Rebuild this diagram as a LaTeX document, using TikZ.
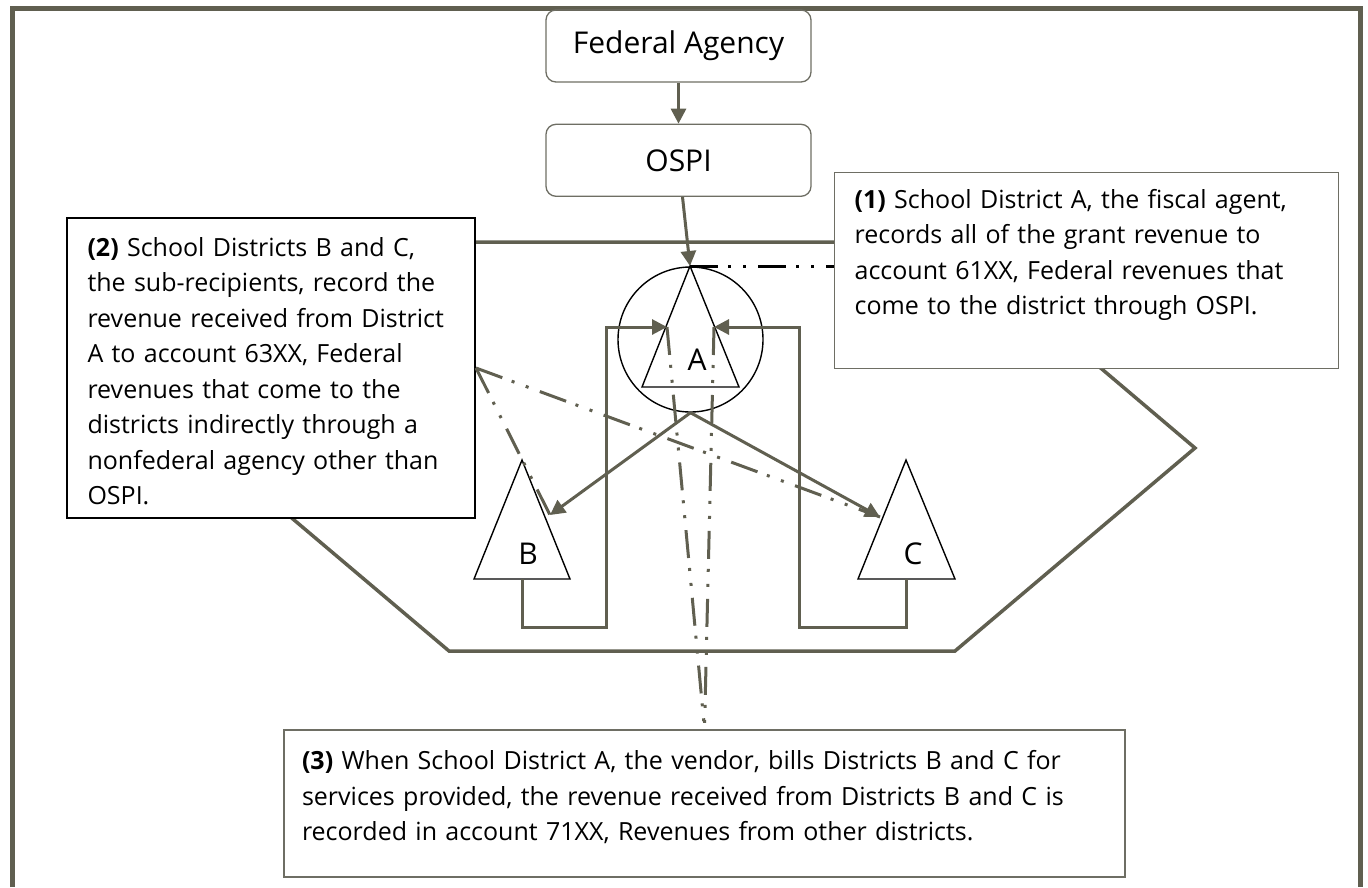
\documentclass[tikz,border=0pt]{standalone}
\usepackage{fontspec}
\setmainfont{Open Sans}
\usetikzlibrary{arrows.meta,positioning}
\definecolor{lineolive}{RGB}{96,95,80}
\definecolor{boxgray}{RGB}{110,110,100}

\begin{document}
\begin{tikzpicture}[x=1pt,y=-1pt,
  conn/.style={line width=3pt,lineolive},
  arr/.style={conn,-{Triangle[length=15pt,width=15pt]}},
  dashdots/.style={line width=3pt,dash pattern=on 28pt off 10pt on 3pt off 12pt on 3pt off 12pt},
  tri/.style={line width=1.4pt,black},
  roundbox/.style={draw=boxgray,line width=1.3pt,rounded corners=10pt,minimum width=265pt,minimum height=72pt,font=\fontsize{30}{36}\selectfont},
  notebox/.style={fill=white,align=left,anchor=north west,inner xsep=20pt,inner ysep=0pt,font=\fontsize{25}{35.5}\selectfont},
  letter/.style={font=\fontsize{30}{36}\selectfont}]
\useasboundingbox (0,0) rectangle (1368,887);
\draw[lineolive,line width=5pt] (12,887) |- (1360.5,8.5) -- (1360.5,887);

% big outline behind the notes
\draw[conn,line width=3.5pt] (452,242) -- (952,242) -- (1195,448) -- (955,651) -- (449,651) -- (209,448) -- cycle;

\node[roundbox] (fed) at (678.5,46) {Federal Agency};
\node[roundbox,below=41pt of fed] (ospi) {OSPI};

\node[notebox,draw=boxgray,line width=1.3pt,text width=464pt] (note1) at (834,172)
 {\rule{0pt}{35.5pt}\textbf{(1)} School District A, the fiscal agent,\\
  records all of the grant revenue to\\
  account 61XX, Federal revenues that\\
  come to the district through OSPI.\rule[-54pt]{0pt}{0pt}};
\node[notebox,draw=black,line width=2pt,inner xsep=20.5pt,text width=367pt] (note2) at (66,217)
 {\rule{0pt}{38pt}\textbf{(2)} School Districts B and C,\\
  the sub-recipients, record the\\
  revenue received from District\\
  A to account 63XX, Federal\\
  revenues that come to the\\
  districts indirectly through a\\
  nonfederal agency other than\\
  OSPI.\rule[-13.5pt]{0pt}{0pt}};
\node[notebox,draw=boxgray,line width=2pt,inner xsep=18pt,text width=805pt] (note3) at (283,729)
 {\rule{0pt}{39.5pt}\textbf{(3)} When School District A, the vendor, bills Districts B and C for\\
  services provided, the revenue received from Districts B and C is\\
  recorded in account 71XX, Revenues from other districts.\rule[-36pt]{0pt}{0pt}};

% district A
\node[draw,circle,line width=1.4pt,minimum size=145pt,inner sep=0pt] (acirc) at (690.5,339.5) {};
\coordinate (atop) at (690,266);
\draw[tri] (atop) -- (642,387) -- (739,387) -- cycle;
\node[letter] (alab) at (697,360) {A};
\coordinate (ain) at (667,327);
\coordinate (aout) at (714,327);

% districts B and C
\draw[tri] (522,460) -- (474,579) -- (570,579) -- cycle;
\node[letter] (blab) at (528,554) {B};
\draw[tri] (906,460) -- (858,579) -- (955,579) -- cycle;
\node[letter] (clab) at (913,554) {C};
\coordinate (btip) at (550,515);
\coordinate (ctip) at (880,517);
\coordinate (bfoot) at (522,579);
\coordinate (cfoot) at (906,579);

\draw[arr] (fed) -- (ospi);
\draw[arr] ([xshift=4pt]ospi.south) -- (atop);
\draw[dashdots,black] (atop) -- (atop -| note1.west);
\draw[arr] (acirc.south) -- (btip);
\draw[arr] (acirc.south) -- (ctip);
\draw[arr] (bfoot) |- (606,627) |- (ain);
\draw[arr] (cfoot) |- (799,627) |- (aout);
\draw[dashdots,lineolive] (ain) -- (note3.north);
\draw[dashdots,lineolive] (aout) -- (note3.north);
\draw[dashdots,lineolive] (note2.east) -- (btip);
\draw[dashdots,lineolive] (note2.east) -- (ctip);
\end{tikzpicture}
\end{document}
